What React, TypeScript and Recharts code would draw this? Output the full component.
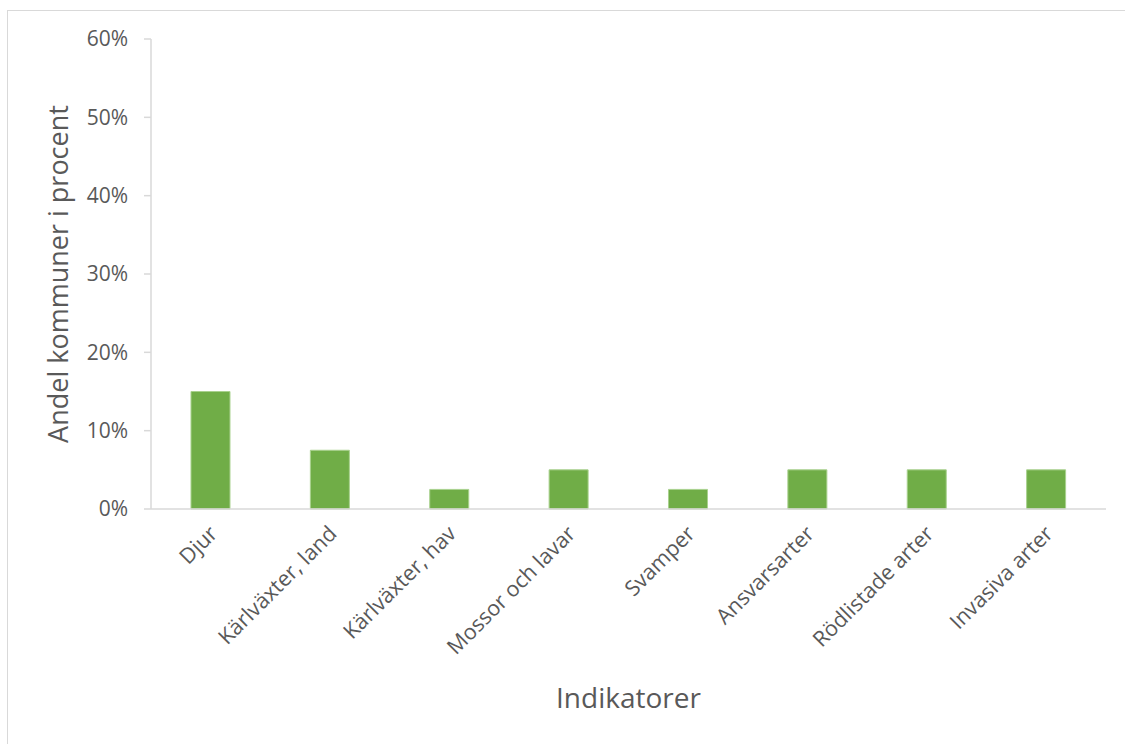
import React from 'react'
import { BarChart, Bar, XAxis, YAxis, Label } from 'recharts'

const categories = ['Djur', 'Kärlväxter, land', 'Kärlväxter, hav', 'Mossor och lavar', 'Svamper', 'Ansvarsarter', 'Rödlistade arter', 'Invasiva arter']
const shares = [15, 7.5, 2.5, 5, 2.5, 5, 5, 5]
const yTicks = [0, 10, 20, 30, 40, 50, 60]

const data = categories.map((name, i) => ({ name, value: shares[i] }))

const textColor = '#595959'
const lineColor = '#d9d9d9'
const font = '"Open Sans", Arial, sans-serif'

const AngledTick = (props: any) => {
  const { x, y, payload } = props
  return (
    <g transform={`translate(${x + 8},${y + 18})`}>
      <text x={0} y={0} textAnchor="end" transform="rotate(-45)" fill={textColor} fontSize={21.5} fontFamily={font}>
        {payload.value}
      </text>
    </g>
  )
}

export default function App() {
  return (
    <div style={{ position: 'absolute', left: 0, top: 0, width: 1125, height: 744, overflow: 'hidden', background: '#fff' }}>
      <div style={{ position: 'absolute', left: 7, top: 10, width: 1200, height: 800, border: `1px solid ${lineColor}` }} />
      <div style={{ position: 'absolute', left: 0, top: 0 }}>
        <BarChart width={1125} height={744} data={data} margin={{ top: 39, right: 19, bottom: 0, left: 0 }} barCategoryGap="33.5%">
          <XAxis
            dataKey="name"
            interval={0}
            height={235}
            axisLine={{ stroke: lineColor, strokeWidth: 1.5 }}
            tickLine={false}
            tick={<AngledTick />}
          >
            <Label value="Indikatorer" position="insideBottom" offset={36} fill={textColor} fontSize={28} fontFamily={font} />
          </XAxis>
          <YAxis
            width={151}
            domain={[0, 60]}
            ticks={yTicks}
            tickFormatter={(v: number) => `${v}%`}
            axisLine={{ stroke: lineColor, strokeWidth: 1.5 }}
            tickLine={{ stroke: lineColor, strokeWidth: 1.5 }}
            tickSize={7}
            tickMargin={16}
            tick={{ fill: textColor, fontSize: 21, fontFamily: font }}
          >
            <Label value="Andel kommuner i procent" angle={-90} position="insideLeft" offset={58} fill={textColor} fontSize={27} fontFamily={font} style={{ textAnchor: 'middle' }} />
          </YAxis>
          <Bar dataKey="value" fill="#70ad47" stroke="#a9d18e" strokeWidth={1} isAnimationActive={false} />
        </BarChart>
      </div>
    </div>
  )
}
